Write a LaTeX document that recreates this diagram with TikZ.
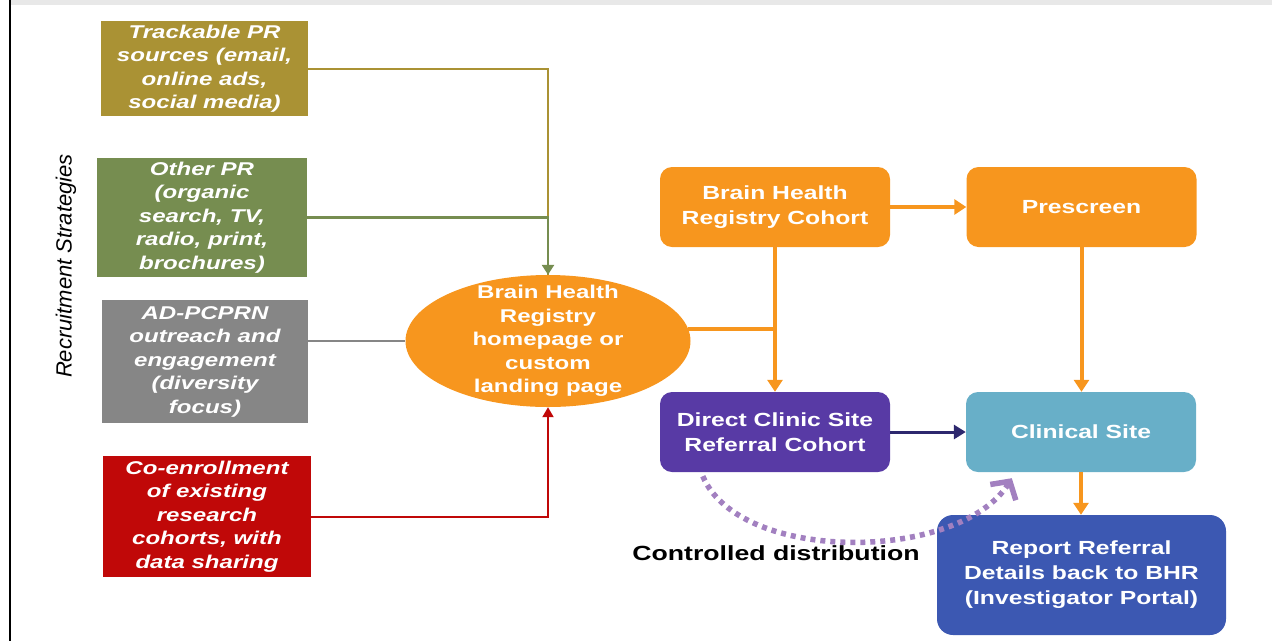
\documentclass[tikz,border=0pt]{standalone}
\usepackage{fontspec}
\setmainfont{Liberation Sans}[FakeStretch=1.3]
\newfontfamily\plainsans{Liberation Sans}
\usetikzlibrary{arrows.meta,shapes.geometric}

\definecolor{trackcol}{RGB}{170,146,52}
\definecolor{othercol}{RGB}{118,141,80}
\definecolor{adcol}{RGB}{134,134,134}
\definecolor{coencol}{RGB}{192,8,8}
\definecolor{orangecol}{RGB}{247,150,30}
\definecolor{purplecol}{RGB}{88,58,165}
\definecolor{sitecol}{RGB}{104,175,200}
\definecolor{reportcol}{RGB}{60,88,178}
\definecolor{navycol}{RGB}{45,40,110}
\definecolor{ctrlcol}{RGB}{162,128,192}

\begin{document}
\begin{tikzpicture}[x=1pt,y=-1pt,
  src/.style={fill=#1, text=white, inner sep=0pt, align=center,
    font=\bfseries\itshape\fontsize{18.5}{23.5}\selectfont},
  stage/.style={fill=#1, text=white, rounded corners=12pt, minimum width=230pt,
    minimum height=80pt, inner sep=0pt, align=center,
    font=\bfseries\fontsize{19}{25}\selectfont},
  feed/.style={draw=#1, line width=2pt},
  flow/.style={draw=orangecol, line width=4pt, -{Triangle[length=12pt,width=15pt]}}
]
\useasboundingbox (0,0) rectangle (1285,641);
\fill[gray!18] (10,0) rectangle (1272,5);
\draw[line width=2pt] (10,0) -- (10,641);

\node[rotate=90, font=\plainsans\itshape\fontsize{22}{25}\selectfont] (strat) at (66,266) {Recruitment Strategies};

% recruitment sources
\node[src=trackcol, minimum width=207pt, minimum height=95pt] (track) at (204.5,68.5) {Trackable PR\\sources (email,\\online ads,\\social media)};
\node[src=othercol, minimum width=210pt, minimum height=119pt] (other) at (202,217.5) {Other PR\\(organic\\search, TV,\\radio, print,\\brochures)};
\node[src=adcol, minimum width=206pt, minimum height=123pt] (adpc) at (205,361.5) {AD-PCPRN\\outreach and\\engagement\\(diversity\\focus)};
\node[src=coencol, minimum width=208pt, minimum height=121pt] (coenr) at (207,516.5) {Co-enrollment\\of existing\\research\\cohorts, with\\data sharing};

\node[ellipse, fill=orangecol, text=white, minimum width=285pt, minimum height=132pt,
  inner xsep=0pt, inner ysep=-20pt, align=center,
  font=\bfseries\fontsize{18.5}{23.5}\selectfont] (bhr) at (548,341) {Brain Health\\Registry\\homepage or\\custom\\landing page};

% cohorts and sites
\node[stage=orangecol] (cohort) at (775,207) {Brain Health\\Registry Cohort};
\node[stage=orangecol] (prescreen) at (1081.5,207) {Prescreen};
\node[stage=purplecol] (direct) at (775,432) {Direct Clinic Site\\Referral Cohort};
\node[stage=sitecol] (site) at (1081,432) {Clinical Site};
\node[stage=reportcol, minimum width=289pt, minimum height=120pt, rounded corners=16pt] (report) at (1081.5,575) {Report Referral\\Details back to BHR\\(Investigator Portal)};

\node[font=\bfseries\fontsize{20.5}{24}\selectfont] (ctrltext) at (776,553) {Controlled distribution};

\draw[feed=trackcol] (track.east) -| (bhr.north);
\draw[feed=othercol, line width=2.5pt, -{Triangle[length=10pt,width=12pt]}] (other.east) -| (bhr.north);
\draw[feed=adcol] (adpc.east |- bhr.west) -- (bhr.west);
\draw[feed=coencol, -{Triangle[length=10pt,width=11pt]}] (coenr.east) -| (bhr.south);

\draw[draw=orangecol, line width=4pt] (bhr.5) -- (bhr.5 -| cohort.south);
\draw[flow] (cohort.south) -- (direct.north);
\draw[flow] (cohort.east) -- (prescreen.west);
\draw[flow] (prescreen.south) -- (prescreen.south |- site.north);
\draw[draw=navycol, line width=3pt, -{Triangle[length=12pt,width=14pt]}] (direct.east) -- (site.west);
\draw[flow] (site.south) -- (site.south |- report.north);
\draw[draw=ctrlcol, line width=5.5pt, dash pattern=on 5pt off 5pt, -{Straight Barb[length=13pt,width=30pt]}]
  ([xshift=43pt,yshift=-4pt]direct.south west) .. controls +(37,88) and +(-52,84) .. ([xshift=46pt,yshift=-6pt]site.south west);
\end{tikzpicture}
\end{document}
